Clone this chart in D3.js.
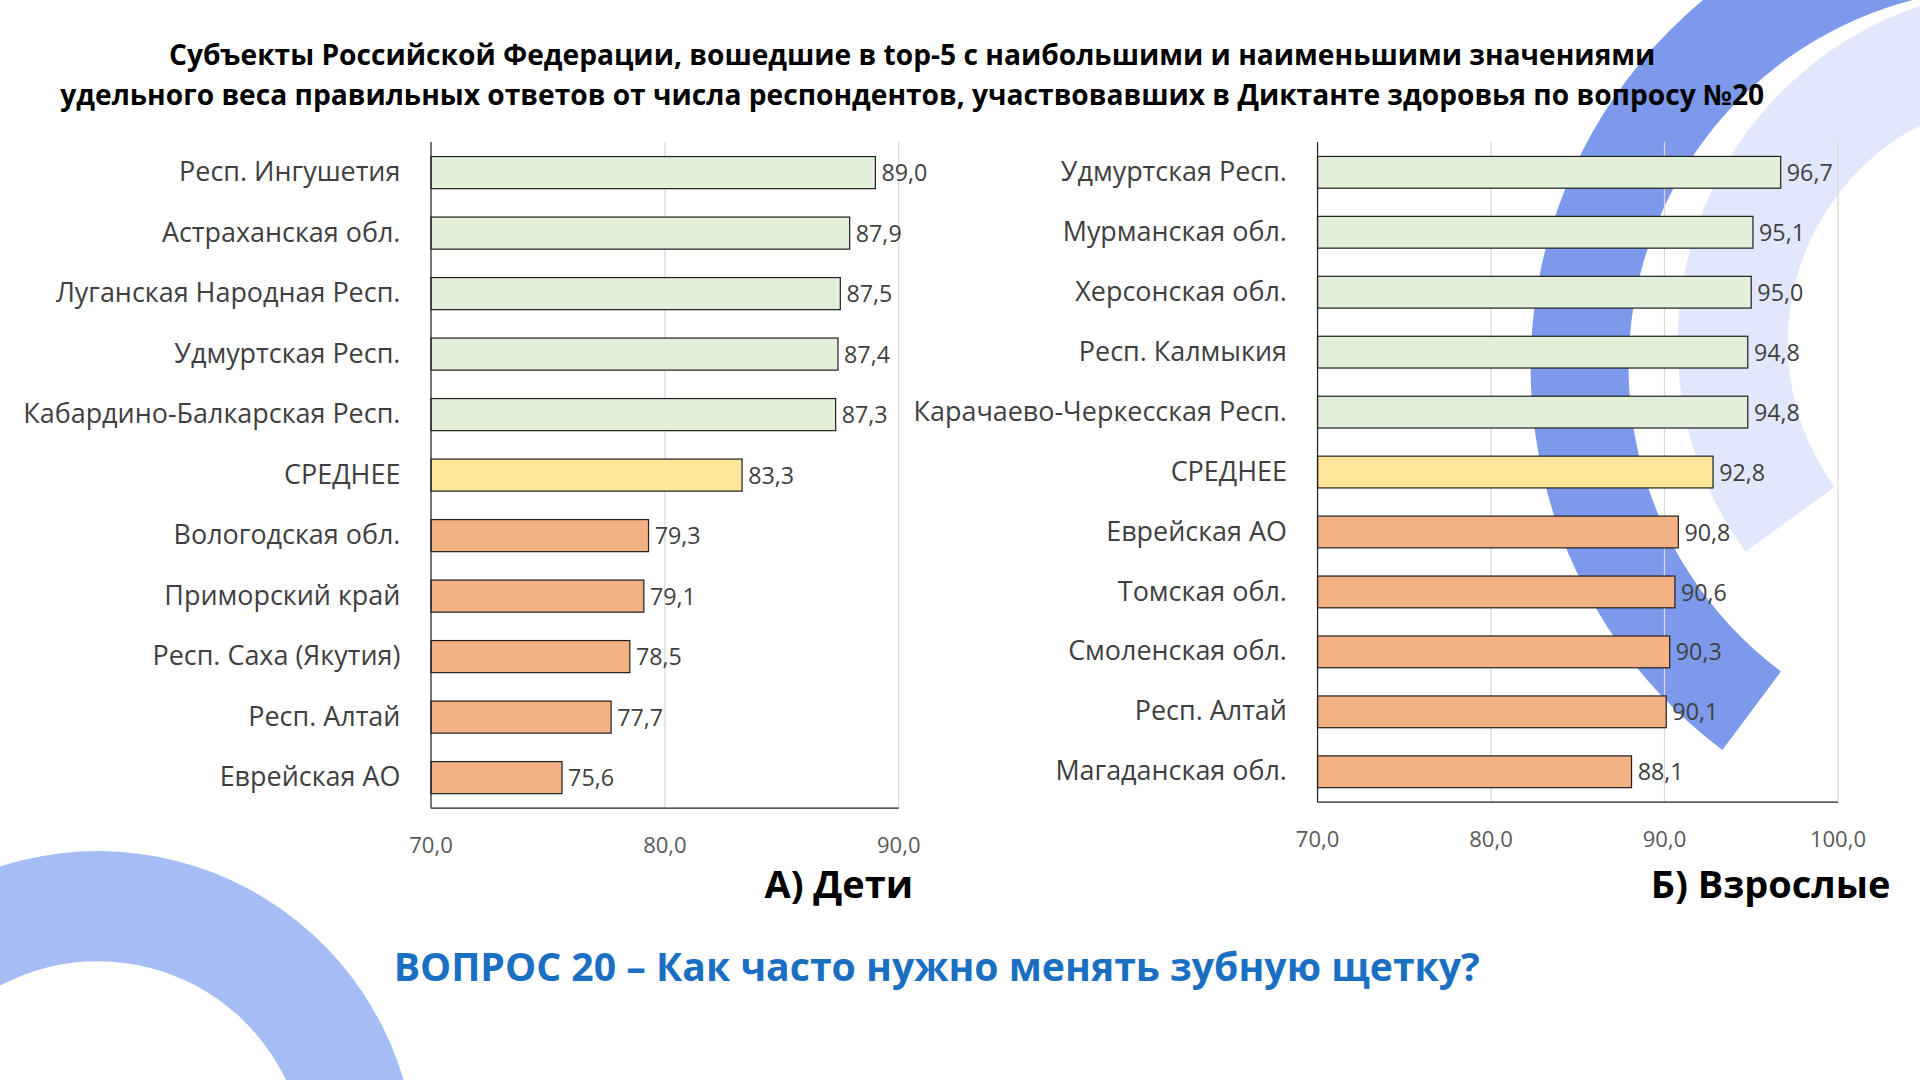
<!DOCTYPE html>
<html><head><meta charset="utf-8">
<script src="https://cdn.jsdelivr.net/npm/d3@7"></script>
<style>body{margin:0;background:#fff}svg{display:block}</style>
</head><body>
<script>
// Data
const kidsNames = ["Респ. Ингушетия","Астраханская обл.","Луганская Народная Респ.","Удмуртская Респ.","Кабардино-Балкарская Респ.","СРЕДНЕЕ","Вологодская обл.","Приморский край","Респ. Саха (Якутия)","Респ. Алтай","Еврейская АО"];
const kidsValues = [89.0,87.9,87.5,87.4,87.3,83.3,79.3,79.1,78.5,77.7,75.6];
const adultNames = ["Удмуртская Респ.","Мурманская обл.","Херсонская обл.","Респ. Калмыкия","Карачаево-Черкесская Респ.","СРЕДНЕЕ","Еврейская АО","Томская обл.","Смоленская обл.","Респ. Алтай","Магаданская обл."];
const adultValues = [96.7,95.1,95.0,94.8,94.8,92.8,90.8,90.6,90.3,90.1,88.1];
const groups = ["top","top","top","top","top","mean","low","low","low","low","low"];
const kidsTicks = [70,80,90];
const adultTicks = [70,80,90,100];

const fillOf = {top:"#e2f0d9", mean:"#ffe699", low:"#f4b183"};
const fmt = v => v.toFixed(1).replace(".", ",");
const font = "'Open Sans', sans-serif";

const svg = d3.select("body").append("svg")
  .attr("width",1920).attr("height",1080)
  .attr("viewBox","0 0 1568 882");

// background decorations
const bg = svg.append("g");
bg.append("path").attr("d", d3.arc()({innerRadius:310,outerRadius:390,startAngle:-2.5,endAngle:0.3}))
  .attr("transform","translate(1640,300)").attr("fill","#5b7fe6").attr("opacity",0.8);
bg.append("path").attr("d", d3.arc()({innerRadius:200,outerRadius:290,startAngle:-2.2,endAngle:0.2}))
  .attr("transform","translate(1660,280)").attr("fill","#cdd9fb").attr("opacity",0.6);
bg.append("path").attr("d", d3.arc()({innerRadius:170,outerRadius:260,startAngle:-1.7,endAngle:2.2}))
  .attr("transform","translate(80,955)").attr("fill","#7f9ff0").attr("opacity",0.7);

// title
svg.append("text").attr("x",745).attr("y",53).attr("text-anchor","middle")
  .attr("font-family",font).attr("font-weight","bold").attr("font-size",23)
  .text("Субъекты Российской Федерации, вошедшие в  top-5 с наибольшими и наименьшими значениями");
svg.append("text").attr("x",745).attr("y",86).attr("text-anchor","middle")
  .attr("font-family",font).attr("font-weight","bold").attr("font-size",23)
  .text("удельного веса правильных ответов от числа респондентов, участвовавших в Диктанте здоровья по вопросу №20");

function chart(names, values, ticks, x0, x1, yTop, yBottom, labelX, tickY) {
  const g = svg.append("g");
  const x = d3.scaleLinear().domain([ticks[0], ticks[ticks.length-1]]).range([x0, x1]);
  const y = d3.scaleBand().domain(names.map((d,i)=>i)).range([yTop, yBottom]).paddingInner(0.47).paddingOuter(0.24);
  g.selectAll(".grid").data(ticks.slice(1)).enter().append("line")
    .attr("x1",d=>x(d)).attr("x2",d=>x(d)).attr("y1",yTop).attr("y2",yBottom)
    .attr("stroke","#d9d9d9");
  g.selectAll(".bar").data(values).enter().append("rect")
    .attr("x",x0).attr("y",(d,i)=>y(i)).attr("width",d=>x(d)-x0).attr("height",y.bandwidth())
    .attr("fill",(d,i)=>fillOf[groups[i]]).attr("stroke","#222").attr("stroke-width",1);
  g.selectAll(".val").data(values).enter().append("text")
    .attr("x",d=>x(d)+5).attr("y",(d,i)=>y(i)+y.bandwidth()/2+7)
    .attr("font-family",font).attr("font-size",19).attr("fill","#404040").text(fmt);
  g.selectAll(".cat").data(names).enter().append("text")
    .attr("x",labelX).attr("y",(d,i)=>y(i)+y.bandwidth()/2+7).attr("text-anchor","end")
    .attr("font-family",font).attr("font-size",22).attr("fill","#404040").text(d=>d);
  g.append("line").attr("x1",x0).attr("x2",x0).attr("y1",yTop).attr("y2",yBottom).attr("stroke","#222");
  g.append("line").attr("x1",x0).attr("x2",x1).attr("y1",yBottom).attr("y2",yBottom).attr("stroke","#222");
  g.selectAll(".tick").data(ticks).enter().append("text")
    .attr("x",d=>x(d)).attr("y",tickY).attr("text-anchor","middle")
    .attr("font-family",font).attr("font-size",18).attr("fill","#595959").text(fmt);
}
chart(kidsNames, kidsValues, kidsTicks, 352, 734, 116, 660, 327, 697);
chart(adultNames, adultValues, adultTicks, 1076, 1501, 116, 655, 1051, 692);

svg.append("text").attr("x",685).attr("y",733).attr("text-anchor","middle")
  .attr("font-family",font).attr("font-weight","bold").attr("font-size",31).text("А) Дети");
svg.append("text").attr("x",1446).attr("y",733).attr("text-anchor","middle")
  .attr("font-family",font).attr("font-weight","bold").attr("font-size",31).text("Б) Взрослые");
svg.append("text").attr("x",765).attr("y",801).attr("text-anchor","middle")
  .attr("font-family",font).attr("font-weight","bold").attr("font-size",32).attr("fill","#1a6fc2")
  .text("ВОПРОС 20 – Как часто нужно менять зубную щетку?");
</script>
</body></html>
